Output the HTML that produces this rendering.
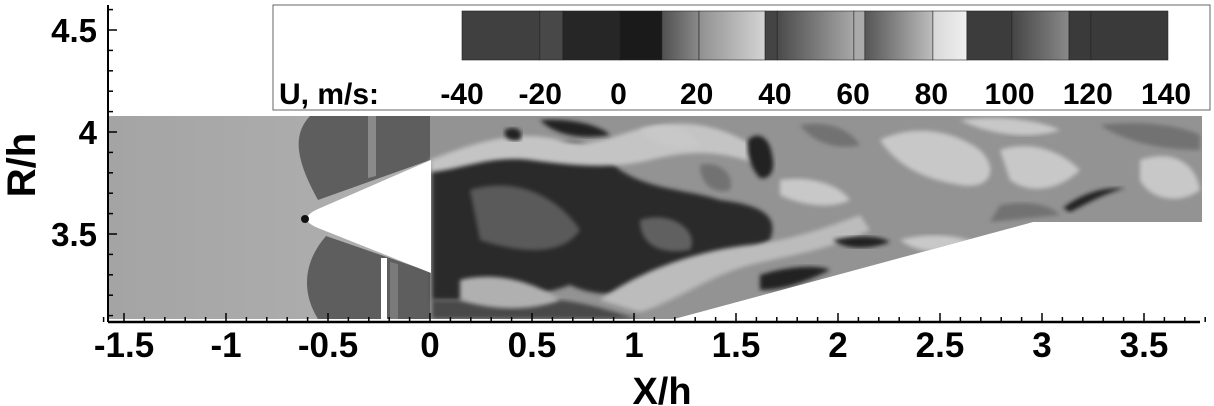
<!DOCTYPE html>
<html><head><meta charset="utf-8"><style>
html,body{margin:0;padding:0;background:#fff;}
svg{display:block;font-family:"Liberation Sans",sans-serif;font-weight:bold;}
</style></head><body>
<svg id="chart" width="1214" height="406" viewBox="0 0 1214 406">
<defs>
<linearGradient id="inflow" x1="0" x2="1" y1="0" y2="0"><stop offset="0" stop-color="#a4a4a4"/><stop offset="0.7" stop-color="#c2c2c2"/><stop offset="1" stop-color="#b8b8b8"/></linearGradient>
<linearGradient id="gA" x1="0" x2="1"><stop offset="0" stop-color="#505050"/><stop offset="1" stop-color="#8a8a8a"/></linearGradient>
<linearGradient id="gA2" x1="0" x2="1"><stop offset="0" stop-color="#909090"/><stop offset="1" stop-color="#d4d4d4"/></linearGradient>
<linearGradient id="gB" x1="0" x2="1"><stop offset="0" stop-color="#4a4a4a"/><stop offset="1" stop-color="#a8a8a8"/></linearGradient>
<linearGradient id="gC" x1="0" x2="1"><stop offset="0" stop-color="#555"/><stop offset="1" stop-color="#bdbdbd"/></linearGradient>
<linearGradient id="gD" x1="0" x2="1"><stop offset="0" stop-color="#454545"/><stop offset="1" stop-color="#8a8a8a"/></linearGradient>
<linearGradient id="gE" x1="0" x2="1"><stop offset="0" stop-color="#d8d8d8"/><stop offset="1" stop-color="#f0f0f0"/></linearGradient>
<filter id="blur"><feGaussianBlur stdDeviation="2"/></filter>
<clipPath id="dom"><path d="M108 116 L1202 116 L1202 222 L1033 222 L674 319 L108 319 Z"/></clipPath>
</defs>
<g id="field" clip-path="url(#dom)"></g>
<g id="axes"></g>
<g id="legend"></g>
</svg>
<script>
const xTicks = [-1.5,-1,-0.5,0,0.5,1,1.5,2,2.5,3,3.5];
const yTicks = [3.5,4,4.5];
const legendLabels = ["-40","-20","0","20","40","60","80","100","120","140"];
const legendLabelValues = [-40,-20,0,20,40,60,80,100,120,140];
const legendStops = [-40,-20.1,-14.2,0.4,11.1,20.6,37.5,40.6,60.2,63.0,80.4,89.1,100.6,115.2,120.8,140.5];
const legendFills = ["#404040","#484848","#262626","#1a1a1a","url(#gA)","url(#gA2)","#444","url(#gB)","#aaa","url(#gC)","url(#gE)","#3c3c3c","url(#gD)","#3a3a3a","#3a3a3a"];

const NS="http://www.w3.org/2000/svg";
const X0=430, PX=204, Y4=132;
const sx=v=>X0+v*PX, sy=v=>Y4-(v-4)*PX;
function mk(tag,attrs,parent){const e=document.createElementNS(NS,tag);for(const k in attrs)e.setAttribute(k,attrs[k]);parent.appendChild(e);return e;}
const field=document.getElementById('field'), axesG=document.getElementById('axes'), legendG=document.getElementById('legend');

const xL=108,xR=1202,yTop=116,yBot=319;
function add(d,fill,name,blur){const e=mk('path',{d,fill},field);if(blur)e.setAttribute('filter','url(#blur)');

return e;}
let p=mk('rect',{x:xL,y:yTop,width:xR-xL,height:yBot-yTop,fill:'url(#inflow)'},field);


add('M430 116 L1210 116 L1210 330 L430 330 Z','#939393','wake-region',false);
add('M310 116 C292 135 296 160 318 200 L430 160 L430 116 Z','#5e5e5e','upper-shoulder-zone',false);
add('M368 116 L376 116 L376 176 L368 178 Z','#8a8a8a','upper-band',false);
add('M326 236 C305 260 300 290 318 319 L430 319 L430 272 Z','#5e5e5e','lower-shoulder-zone',false);
add('M390 262 L398 264 L398 319 L390 319 Z','#7a7a7a','lower-band',false);
add('M432 165 C470 150 500 160 540 150 C580 130 600 150 620 170 C650 190 690 190 720 200 C760 205 780 215 770 240 C740 260 700 280 660 300 C630 290 600 300 570 285 C530 300 480 300 432 300 Z','#2b2b2b','recirculation-core',true);
add('M470 190 C520 175 560 200 580 230 C560 260 510 250 480 240 Z','#5a5a5a','core-mid-patch',true);
add('M640 220 C670 210 700 230 690 250 C660 255 640 245 640 220 Z','#606060','core-mid-patch',true);
add('M432 300 L560 300 C600 305 620 315 640 319 L432 319 Z','#4a4a4a','lower-wall-patch',true);
add('M430 160 C480 140 520 130 560 140 C600 150 620 130 660 125 C700 120 730 130 760 150 L760 165 C720 150 690 150 650 160 C610 170 570 165 530 160 C490 155 460 170 430 172 Z','#c4c4c4','upper-shear-layer',true);
add('M600 300 C640 270 700 250 750 245 C790 240 820 230 860 215 L870 230 C830 250 790 255 750 265 C710 275 680 300 640 312 Z','#bcbcbc','lower-shear-layer',true);
add('M460 280 C500 270 540 285 560 300 C530 312 490 310 460 300 Z','#b0b0b0','lower-shear-patch',true);
const darks=["M748 140 C758 130 770 138 772 155 C776 170 770 180 760 178 C752 170 746 155 748 140 Z",
"M833 240 C855 235 880 235 890 242 C870 250 845 250 833 240 Z","M1063 208 C1080 195 1100 187 1125 188 C1100 195 1085 205 1070 212 Z",
"M760 275 C790 265 820 265 830 270 C800 285 780 290 760 290 Z","M540 120 C570 118 600 125 610 135 C580 140 555 135 540 120 Z",
"M505 130 C515 125 525 130 520 140 C510 142 503 138 505 130 Z"];
darks.forEach(d=>add(d,'#242424','low-velocity-patch',true));
const lights=["M880 140 C910 125 950 128 980 150 C1000 170 990 190 960 185 C930 180 900 170 880 140 Z",
"M1000 150 C1030 140 1060 150 1080 170 C1060 190 1030 195 1010 180 Z","M780 180 C810 175 840 185 850 200 C830 210 800 205 780 195 Z",
"M1140 160 C1170 150 1195 160 1200 190 C1180 205 1150 200 1140 180 Z","M640 130 C670 120 690 130 700 145 C680 150 655 148 640 130 Z",
"M960 120 C1000 115 1040 120 1060 130 C1030 140 990 135 960 120 Z","M900 240 C930 232 960 235 980 245 C950 255 920 255 900 240 Z"];
lights.forEach(d=>add(d,'#c8c8c8','high-velocity-patch',true));
const mids=["M800 125 C830 120 850 130 860 145 C840 150 815 145 800 125 Z","M1100 125 C1140 120 1180 125 1200 135 L1200 150 C1170 150 1130 145 1100 125 Z",
"M700 165 C720 160 735 175 730 190 C715 195 700 185 700 165 Z","M1000 205 C1030 200 1050 205 1060 215 L990 222 Z"];
mids.forEach(d=>add(d,'#727272','mid-velocity-patch',true));
p=mk('path',{d:'M431 160 L431 273 L318 228 Q296 219 318 209 Z',fill:'#fff'},field);


p=mk('circle',{cx:305,cy:219,r:4,fill:'#111'},field);


p=mk('rect',{x:381,y:258,width:6,height:62,fill:'#fff'},field);



mk('line',{x1:xL,y1:5,x2:xL,y2:322,stroke:'#000','stroke-width':2},axesG);
mk('line',{x1:xL,y1:322,x2:1200,y2:322,stroke:'#000','stroke-width':2.5},axesG);
for(let i=-16;i<=38;i++){const x=sx(i/10);mk('line',{x1:x,y1:322,x2:x,y2:322-(i%5===0?9:5),stroke:'#000','stroke-width':1.5},axesG);}
for(let i=31;i<=46;i++){const y=sy(i/10);mk('line',{x1:xL,y1:y,x2:xL+(i%5===0?9:5),y2:y,stroke:'#000','stroke-width':1.5},axesG);}
xTicks.forEach(v=>{const t=mk('text',{x:sx(v),y:357,'font-size':35,'text-anchor':'middle'},axesG);t.textContent=String(v);

});
yTicks.forEach(v=>{const t=mk('text',{x:97,y:sy(v)+12,'font-size':33,'text-anchor':'end'},axesG);t.textContent=String(v);

});
let t=mk('text',{x:sx(1)+28,y:404,'font-size':38,'text-anchor':'middle'},axesG);t.textContent='X/h';


t=mk('text',{x:0,y:0,'font-size':40,'text-anchor':'middle',transform:'translate(35,165) rotate(-90)'},axesG);t.textContent='R/h';



p=mk('rect',{x:273,y:5,width:937,height:105,fill:'#fff',stroke:'#666','stroke-width':1},legendG);


const lx=v=>462+(v+40)*(1166-462)/180;
for(let i=0;i<legendFills.length;i++){const r=mk('rect',{x:lx(legendStops[i]),y:11,width:lx(legendStops[i+1])-lx(legendStops[i]),height:49,fill:legendFills[i],stroke:'#222','stroke-width':0.6},legendG);

}
t=mk('text',{x:279,y:104,'font-size':30},legendG);t.textContent='U, m/s:';


legendLabels.forEach((s,i)=>{const e=mk('text',{x:lx(legendLabelValues[i]),y:104,'font-size':30,'text-anchor':'middle'},legendG);e.textContent=s;

});
</script>
</body></html>
